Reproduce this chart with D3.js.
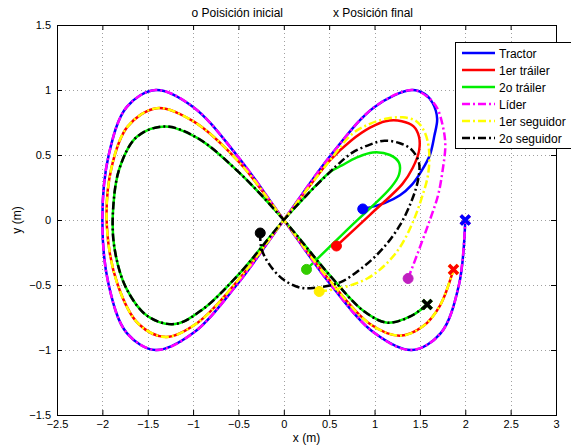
<!DOCTYPE html>
<html>
<head>
<meta charset="utf-8">
<script src="https://cdn.jsdelivr.net/npm/d3@7"></script>
<style>
  body { margin: 0; background: #fff; }
  svg { display: block; font-family: "Liberation Sans", Arial, sans-serif; }
</style>
</head>
<body>
<div id="chart"></div>
<script>
// Series names (legend order)
const seriesNames = ["Tractor", "1er tráiler", "2o tráiler", "Líder", "1er seguidor", "2o seguidor"];

// Axis ticks
const xTicks = [-2.5, -2, -1.5, -1, -0.5, 0, 0.5, 1, 1.5, 2, 2.5, 3];
const yTicks = [-1.5, -1, -0.5, 0, 0.5, 1, 1.5];

// Closed figure-eight parts
const outerLoop = [[1.41, 1.0], [1.0, 0.87], [0.52, 0.5], [0, 0], [-0.52, -0.5], [-1.0, -0.87], [-1.41, -1.0],
  [-1.73, -0.87], [-1.93, -0.5], [-2.0, 0], [-1.93, 0.5], [-1.73, 0.87], [-1.41, 1.0], [-1.0, 0.87], [-0.52, 0.5],
  [0, 0], [0.52, -0.5], [1.0, -0.87], [1.41, -1.0], [1.73, -0.87], [1.93, -0.5], [2.0, 0]];
const middleLoop = [[0.51, 0.46], [0.25, 0.23], [0, 0], [-0.5, -0.46], [-0.95, -0.79], [-1.3, -0.9], [-1.6, -0.8],
  [-1.83, -0.5], [-1.95, -0.05], [-1.9, 0.4], [-1.72, 0.72], [-1.4, 0.86], [-1.0, 0.76], [-0.5, 0.45], [0, 0],
  [0.5, -0.46], [0.95, -0.8], [1.28, -0.89], [1.53, -0.82], [1.72, -0.66], [1.87, -0.38]];
const innerLoop = [[0.51, 0.37], [0.25, 0.19], [0, 0], [-0.5, -0.42], [-0.9, -0.69], [-1.2, -0.8], [-1.5, -0.74],
  [-1.74, -0.52], [-1.87, -0.2], [-1.88, 0.1], [-1.81, 0.4], [-1.62, 0.64], [-1.31, 0.72], [-0.95, 0.63],
  [-0.5, 0.37], [0, 0], [0.5, -0.42], [0.88, -0.7], [1.14, -0.79], [1.4, -0.74], [1.58, -0.65]];

// Transients from the initial position until each path joins its loop
const tractorStart = [[0.87, 0.085], [1.11, 0.13], [1.28, 0.19], [1.41, 0.27], [1.52, 0.38], [1.61, 0.5],
  [1.66, 0.65], [1.69, 0.78], [1.64, 0.9], [1.55, 0.97]];
const trailer1Start = [[0.58, -0.2], [0.95, 0.04], [1.31, 0.28], [1.42, 0.4], [1.49, 0.53], [1.49, 0.64],
  [1.43, 0.72], [1.3, 0.76], [1.12, 0.76], [0.95, 0.71], [0.74, 0.61]];
const trailer2Start = [[0.25, -0.38], [0.72, -0.06], [1.18, 0.25], [1.27, 0.35], [1.27, 0.44], [1.17, 0.5],
  [0.98, 0.52], [0.8, 0.48], [0.64, 0.42]];
const leaderStart = [[1.37, -0.45], [1.5, -0.21], [1.61, 0], [1.7, 0.19], [1.75, 0.38], [1.78, 0.58],
  [1.75, 0.73], [1.69, 0.86], [1.58, 0.95]];
const follower1Start = [[0.39, -0.55], [0.65, -0.52], [0.92, -0.45], [1.11, -0.35], [1.28, -0.21], [1.42, -0.02],
  [1.52, 0.17], [1.59, 0.35], [1.6, 0.54], [1.55, 0.68], [1.46, 0.76], [1.31, 0.79], [1.14, 0.78], [0.95, 0.74],
  [0.75, 0.66]];
const follower2Start = [[-0.26, -0.1], [-0.25, -0.21], [-0.18, -0.32], [-0.02, -0.45], [0.18, -0.52], [0.36, -0.52],
  [0.62, -0.48], [0.86, -0.37], [1.09, -0.22], [1.28, -0.04], [1.41, 0.15], [1.48, 0.31], [1.49, 0.44],
  [1.41, 0.54], [1.28, 0.59], [1.11, 0.61], [0.95, 0.58], [0.76, 0.52], [0.6, 0.43]];

const colors = ["#0000ff", "#ff0000", "#00ee00", "#ff00ff", "#ffff00", "#000000"];
const startColors = ["#0000ff", "#ff0000", "#33cc00", "#c020c0", "#ffee00", "#000000"];
const dashes = [null, null, null, "8,3,2,3", "8,3,2,3", "8,3,2,3"];

const paths = [
  tractorStart.concat(outerLoop),
  trailer1Start.concat(middleLoop),
  trailer2Start.concat(innerLoop),
  leaderStart.concat(outerLoop),
  follower1Start.concat(middleLoop),
  follower2Start.concat(innerLoop),
];

const width = 571;
const height = 448;
const plotLeft = 57, plotRight = 556, plotTop = 25, plotBottom = 415;

const x = d3.scaleLinear().domain([-2.5, 3]).range([plotLeft, plotRight]);
const y = d3.scaleLinear().domain([-1.5, 1.5]).range([plotBottom, plotTop]);
const tickFmt = d3.format("~");

const svg = d3.select("#chart").append("svg").attr("width", width).attr("height", height);

svg.append("defs").append("clipPath").attr("id", "plotclip")
  .append("rect").attr("x", plotLeft).attr("y", plotTop)
  .attr("width", plotRight - plotLeft).attr("height", plotBottom - plotTop);

// Grid
const grid = svg.append("g").attr("stroke", "#a0a0a0").attr("stroke-width", 1).attr("stroke-dasharray", "1,3");
grid.selectAll(".gx").data(xTicks.slice(1, -1)).enter().append("line")
  .attr("x1", (d) => Math.round(x(d)) + 0.5).attr("x2", (d) => Math.round(x(d)) + 0.5)
  .attr("y1", plotTop).attr("y2", plotBottom);
grid.selectAll(".gy").data(yTicks.slice(1, -1)).enter().append("line")
  .attr("y1", (d) => Math.round(y(d)) + 0.5).attr("y2", (d) => Math.round(y(d)) + 0.5)
  .attr("x1", plotLeft).attr("x2", plotRight);

// Curves
const line = d3.line().x((d) => x(d[0])).y((d) => y(d[1])).curve(d3.curveCatmullRom.alpha(0.5));
const plot = svg.append("g").attr("clip-path", "url(#plotclip)");
paths.forEach((p, i) => {
  plot.append("path")
    .attr("d", line(p))
    .attr("fill", "none")
    .attr("stroke", colors[i])
    .attr("stroke-width", 2.5)
    .attr("stroke-dasharray", dashes[i]);
});

// Initial positions (circles)
paths.forEach((p, i) => {
  plot.append("circle")
    .attr("cx", x(p[0][0])).attr("cy", y(p[0][1])).attr("r", 5)
    .attr("fill", startColors[i]).attr("stroke", startColors[i]).attr("stroke-width", 1);
});

// Final positions (crosses), drawn so the visible one ends up on top
const crossOrder = [3, 0, 4, 1, 2, 5];
crossOrder.forEach((i) => {
  const p = paths[i][paths[i].length - 1];
  const cx = x(p[0]), cy = y(p[1]), s = 4.5;
  plot.append("path")
    .attr("d", `M${cx - s},${cy - s}L${cx + s},${cy + s}M${cx - s},${cy + s}L${cx + s},${cy - s}`)
    .attr("stroke", startColors[i]).attr("stroke-width", 3.5).attr("fill", "none");
});

// Axes with inward ticks on all four sides
const axisStyle = (g) => {
  g.select(".domain").remove();
  g.selectAll("text").attr("font-size", 11).attr("fill", "#000")
    .attr("font-family", "Liberation Sans, Arial, sans-serif");
  g.selectAll("line").attr("stroke", "#000");
};
svg.append("g").attr("transform", `translate(0,${plotBottom})`)
  .call(d3.axisBottom(x).tickValues(xTicks).tickFormat(tickFmt).tickSizeInner(-5).tickSizeOuter(0).tickPadding(5))
  .call(axisStyle);
svg.append("g").attr("transform", `translate(0,${plotTop})`)
  .call(d3.axisTop(x).tickValues(xTicks).tickSizeInner(-5).tickSizeOuter(0).tickFormat(""))
  .call(axisStyle);
svg.append("g").attr("transform", `translate(${plotLeft},0)`)
  .call(d3.axisLeft(y).tickValues(yTicks).tickFormat(tickFmt).tickSizeInner(-5).tickSizeOuter(0).tickPadding(6))
  .call(axisStyle);
svg.append("g").attr("transform", `translate(${plotRight},0)`)
  .call(d3.axisRight(y).tickValues(yTicks).tickSizeInner(-5).tickSizeOuter(0).tickFormat(""))
  .call(axisStyle);

svg.append("rect")
  .attr("x", plotLeft + 0.5).attr("y", plotTop + 0.5)
  .attr("width", plotRight - plotLeft).attr("height", plotBottom - plotTop)
  .attr("fill", "none").attr("stroke", "#000").attr("stroke-width", 1);

// Labels
svg.append("text").attr("x", (plotLeft + plotRight) / 2).attr("y", 442).attr("text-anchor", "middle")
  .attr("font-size", 12).text("x (m)");
svg.append("text").attr("transform", `translate(21,${(plotTop + plotBottom) / 2}) rotate(-90)`)
  .attr("text-anchor", "middle").attr("font-size", 12).text("y (m)");
svg.append("text").attr("x", 283).attr("y", 17).attr("text-anchor", "end")
  .attr("font-size", 12).text("o Poisición inicial");
svg.append("text").attr("x", 333).attr("y", 17).attr("text-anchor", "start")
  .attr("font-size", 12).text("x Posición final");

// Legend
const legend = svg.append("g").attr("transform", "translate(455,42)");
legend.append("rect").attr("x", 0.5).attr("y", 0.5).attr("width", 130).attr("height", 106)
  .attr("fill", "#fff").attr("stroke", "#000").attr("stroke-width", 1);
seriesNames.forEach((name, i) => {
  const ly = 11 + i * 17;
  legend.append("line")
    .attr("x1", 7).attr("x2", 40).attr("y1", ly).attr("y2", ly)
    .attr("stroke", colors[i]).attr("stroke-width", 2.5)
    .attr("stroke-dasharray", dashes[i]);
  legend.append("text").attr("x", 44).attr("y", ly + 4.5).attr("font-size", 12).text(name);
});
</script>
</body>
</html>
